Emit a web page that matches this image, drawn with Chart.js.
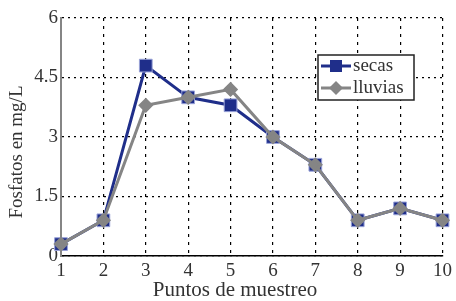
<!DOCTYPE html>
<html>
<head>
<meta charset="utf-8">
<script src="https://cdn.jsdelivr.net/npm/chart.js@4.4.1/dist/chart.umd.min.js"></script>
<style>
  html, body { margin: 0; padding: 0; background: #fff; }
  #wrap { width: 456px; height: 301px; }
</style>
</head>
<body>
<div id="wrap"><canvas id="chart" width="456" height="301"></canvas></div>
<script>
// datos
const puntos = ["1", "2", "3", "4", "5", "6", "7", "8", "9", "10"];
const secas = [0.3, 0.9, 4.8, 4.0, 3.8, 3.0, 2.3, 0.9, 1.2, 0.9];
const lluvias = [0.3, 0.9, 3.8, 4.0, 4.2, 3.0, 2.3, 0.9, 1.2, 0.9];
const yTicks = [0, 1.5, 3, 4.5, 6];
const tituloX = "Puntos de muestreo";
const tituloY = "Fosfatos en mg/L";

const fontFam = "'Liberation Serif', 'DejaVu Serif', serif";
const azul = "#1f2e8a";
const gris = "#858585";

// titulos de ejes y leyenda dentro del area del grafico
const extras = {
  id: "extras",
  afterDraw(chart) {
    const ctx = chart.ctx;
    ctx.save();
    ctx.fillStyle = "#333";
    ctx.textAlign = "center";
    ctx.textBaseline = "middle";
    ctx.font = "21px " + fontFam;
    ctx.fillText(tituloX, 235, 290);
    ctx.translate(17, 152);
    ctx.rotate(-Math.PI / 2);
    ctx.font = "19px " + fontFam;
    ctx.fillText(tituloY, 0, 0);
    ctx.restore();

    const x = 318, y = 55, w = 96, h = 45;
    ctx.save();
    ctx.fillStyle = "#fff";
    ctx.fillRect(x, y, w, h);
    ctx.strokeStyle = "#222";
    ctx.lineWidth = 1.5;
    ctx.strokeRect(x, y, w, h);
    chart.data.datasets.forEach((ds, i) => {
      const cy = y + 11 + i * 22;
      ctx.strokeStyle = ds.borderColor;
      ctx.lineWidth = 3;
      ctx.beginPath();
      ctx.moveTo(x + 3, cy);
      ctx.lineTo(x + 33, cy);
      ctx.stroke();
      ctx.fillStyle = ds.pointBackgroundColor;
      const r = 6;
      ctx.beginPath();
      if (ds.pointStyle === "rectRot") {
        ctx.moveTo(x + 18, cy - r - 1);
        ctx.lineTo(x + 18 + r + 1, cy);
        ctx.lineTo(x + 18, cy + r + 1);
        ctx.lineTo(x + 18 - r - 1, cy);
        ctx.closePath();
      } else {
        ctx.rect(x + 18 - r, cy - r, 2 * r, 2 * r);
      }
      ctx.fill();
      ctx.fillStyle = "#333";
      ctx.font = "19px " + fontFam;
      ctx.textAlign = "left";
      ctx.textBaseline = "middle";
      ctx.fillText(ds.label, x + 35, cy);
    });
    ctx.restore();
  }
};

new Chart(document.getElementById("chart"), {
  type: "line",
  data: {
    labels: puntos,
    datasets: [
      {
        label: "secas",
        data: secas,
        order: 2,
        borderColor: azul,
        backgroundColor: azul,
        pointBackgroundColor: azul,
        pointBorderColor: "#9aa3d8",
        pointBorderWidth: 1,
        pointStyle: "rect",
        pointRadius: 9,
        borderWidth: 3,
        tension: 0
      },
      {
        label: "lluvias",
        data: lluvias,
        order: 1,
        borderColor: gris,
        backgroundColor: gris,
        pointBackgroundColor: gris,
        pointBorderColor: gris,
        pointStyle: "rectRot",
        pointRadius: 5.5,
        borderWidth: 3,
        tension: 0
      }
    ]
  },
  options: {
    responsive: false,
    animation: false,
    layout: { padding: { top: 18, right: 12, left: 0, bottom: 0 } },
    plugins: { legend: { display: false }, tooltip: { enabled: false } },
    scales: {
      x: {
        offset: false,
        afterFit(s) { s.height = 45; },
        grid: { color: "#000", lineWidth: 1.2, drawTicks: false },
        border: { display: true, color: "#000", width: 1.5, dash: [3, 5] },
        ticks: { color: "#333", padding: 4, maxRotation: 0, font: { family: fontFam, size: 19 } }
      },
      y: {
        min: 0,
        max: 6,
        afterBuildTicks(s) { s.ticks = yTicks.map(v => ({ value: v })); },
        afterFit(s) { s.width = 61; },
        grid: { color: "#000", lineWidth: 1.2, drawTicks: false },
        border: { color: gris, width: 2, dash: [2, 4] },
        ticks: { color: "#333", padding: 3, font: { family: fontFam, size: 19 } }
      }
    }
  },
  plugins: [extras]
});
</script>
</body>
</html>
